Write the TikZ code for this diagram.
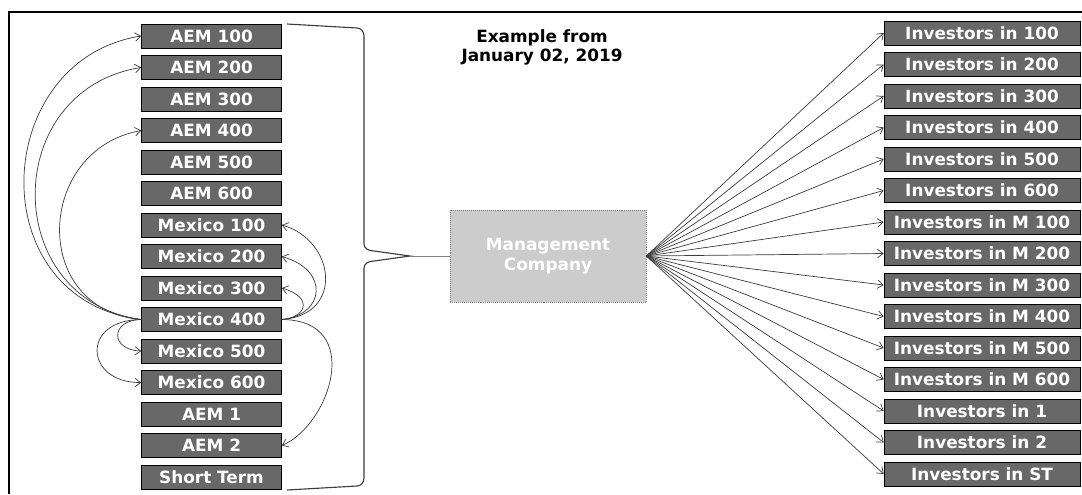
\documentclass[tikz,border=0pt]{standalone}
\usepackage{fontspec}
\setmainfont{DejaVu Sans}
\usepackage{tikz}
\usetikzlibrary{arrows.meta,positioning,calc}
\definecolor{boxgray}{RGB}{104,104,104}
\definecolor{mgmtgray}{RGB}{204,204,204}
\definecolor{linegray}{RGB}{60,60,60}

\begin{document}
\begin{tikzpicture}[
  x=0.025cm, y=-0.025cm,
  fundbox/.style={draw=black, fill=boxgray, rectangle, minimum width=3.5cm, minimum height=0.6cm, inner sep=1pt, text=white, font=\fontsize{12}{13}\bfseries},
  invbox/.style={draw=black, fill=boxgray, rectangle, minimum width=4.9cm, minimum height=0.6cm, inner sep=1pt, text=white, font=\fontsize{12}{13}\bfseries},
  mgmtbox/.style={draw=gray, densely dotted, fill=mgmtgray, rectangle, minimum width=4.9cm, minimum height=2.3cm, align=center, text=white, font=\fontsize{12}{14.5}\bfseries},
  link/.style={draw=linegray, line width=0.5pt, -{Straight Barb[length=4pt,width=6pt]}},
]
\useasboundingbox (0,0) rectangle (1082,494);
% frame
\draw[line width=1.4pt] (9,494) -- (9,12) -- (1082,12);

\node[align=center, font=\fontsize{12}{13.5}\bfseries] (title) at (542,47) {Example from\\January 02, 2019};

% funds
\node[fundbox] (aem100) at (211.5,36) {AEM 100};
\node[fundbox] (aem200) at (211.5,67.5) {AEM 200};
\node[fundbox] (aem300) at (211.5,99) {AEM 300};
\node[fundbox] (aem400) at (211.5,130.5) {AEM 400};
\node[fundbox] (aem500) at (211.5,162) {AEM 500};
\node[fundbox] (aem600) at (211.5,193.5) {AEM 600};
\node[fundbox] (mex100) at (211.5,225) {Mexico 100};
\node[fundbox] (mex200) at (211.5,256.5) {Mexico 200};
\node[fundbox] (mex300) at (211.5,288) {Mexico 300};
\node[fundbox] (mex400) at (211.5,319.5) {Mexico 400};
\node[fundbox] (mex500) at (211.5,351) {Mexico 500};
\node[fundbox] (mex600) at (211.5,382.5) {Mexico 600};
\node[fundbox] (aem1) at (211.5,414) {AEM 1};
\node[fundbox] (aem2) at (211.5,445.5) {AEM 2};
\node[fundbox] (st) at (211.5,477) {Short Term};

% investors
\node[invbox] (inv100) at (982,33) {Investors in 100};
\node[invbox] (inv200) at (982,64.5) {Investors in 200};
\node[invbox] (inv300) at (982,96) {Investors in 300};
\node[invbox] (inv400) at (982,127.5) {Investors in 400};
\node[invbox] (inv500) at (982,159) {Investors in 500};
\node[invbox] (inv600) at (982,190.5) {Investors in 600};
\node[invbox] (invm100) at (982,222) {Investors in M 100};
\node[invbox] (invm200) at (982,253.5) {Investors in M 200};
\node[invbox] (invm300) at (982,285) {Investors in M 300};
\node[invbox] (invm400) at (982,316.5) {Investors in M 400};
\node[invbox] (invm500) at (982,348) {Investors in M 500};
\node[invbox] (invm600) at (982,379.5) {Investors in M 600};
\node[invbox] (inv1) at (982,411) {Investors in 1};
\node[invbox] (inv2) at (982,442.5) {Investors in 2};
\node[invbox] (invst) at (982,474) {Investors in ST};

\node[mgmtbox] (mgmt) at (548,256) {Management\\Company};

% brace
\coordinate (brtip) at (410,256);
\draw[linegray, line width=0.8pt] (287,24) -- (357,28) to[out=0,in=90] (364,36) -- (364,244)
  to[out=-90,in=180] (374,251) -- (brtip) -- (374,261) to[out=180,in=90] (364,268)
  -- (364,478) to[out=-90,in=0] (357,486) -- (287,490);
\draw[gray, line width=0.6pt] (brtip) -- (mgmt.west);

% mexico 400 left side
\draw[link] (mex400.west) .. controls (-20,300) and (-10,60) .. (aem100.west);
\draw[link] (mex400.west) .. controls (0,300) and (0,90) .. (aem200.west);
\draw[link] (mex400.west) .. controls (30,310) and (35,150) .. (aem400.west);
\draw[link] (mex400.west) .. controls (110,320) and (110,350) .. (mex500.west);
\draw[link] (mex400.west) .. controls (80,320) and (85,383) .. (mex600.west);
% mexico 400 right side
\draw[link] (mex400.east) .. controls (345,315) and (335,240) .. (mex100.east);
\draw[link] (mex400.east) .. controls (325,315) and (330,270) .. (mex200.east);
\draw[link] (mex400.east) .. controls (305,318) and (315,298) .. (mex300.east);
\draw[link] (mex400.east) .. controls (365,320) and (330,425) .. (aem2.east);

% fan out
\foreach \n in {inv100,inv200,inv300,inv400,inv500,inv600,invm100,invm200,invm300,invm400,invm500,invm600,inv1,inv2,invst}
  \draw[link] (mgmt.east) -- (\n.west);
\end{tikzpicture}
\end{document}
